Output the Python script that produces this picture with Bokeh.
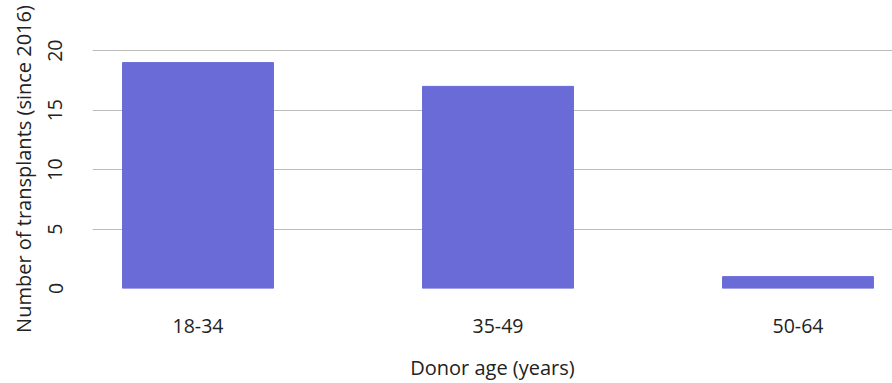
from bokeh.plotting import figure
from bokeh.models import Range1d, FixedTicker
from bokeh.embed import file_html
from bokeh.resources import INLINE

categories = ["18-34", "35-49", "50-64"]
transplants = [19, 17, 1]
y_ticks = [0, 5, 10, 15, 20]

xs = list(range(len(categories)))

p = figure(width=892, height=383, output_backend="svg", toolbar_location=None,
           x_range=Range1d(-0.3517, 2.315), y_range=Range1d(0, 20.1))
p.min_border_left = 92
p.min_border_right = 0
p.min_border_top = 49
p.min_border_bottom = 93
p.outline_line_color = None

p.vbar(x=xs, top=transplants, width=0.503, color="#6b6bd8")

FONT = "Open Sans"
p.xaxis.ticker = FixedTicker(ticks=xs)
p.xaxis.major_label_overrides = {i: c for i, c in enumerate(categories)}
p.xaxis.axis_label = "Donor age (years)"
p.yaxis.ticker = FixedTicker(ticks=y_ticks)
p.yaxis.axis_label = "Number of transplants (since 2016)"
p.yaxis.major_label_orientation = "vertical"

for ax in (p.xaxis[0], p.yaxis[0]):
    ax.axis_line_color = None
    ax.major_tick_line_color = None
    ax.minor_tick_line_color = None
    ax.major_label_text_font = FONT
    ax.major_label_text_font_size = "19.5px"
    ax.major_label_text_color = "#222222"
    ax.axis_label_text_font = FONT
    ax.axis_label_text_font_size = "20px"
    ax.axis_label_text_font_style = "normal"
    ax.axis_label_text_color = "#222222"

p.xaxis.major_label_standoff = 24
p.xaxis.axis_label_standoff = 18
p.yaxis.major_label_standoff = 24
p.yaxis.axis_label_standoff = 9

p.xgrid.grid_line_color = None
p.ygrid.ticker = FixedTicker(ticks=y_ticks)
p.ygrid.grid_line_color = "#bbbbbb"
p.ygrid.grid_line_width = 1

open("out.html", "w").write(file_html(p, INLINE))
